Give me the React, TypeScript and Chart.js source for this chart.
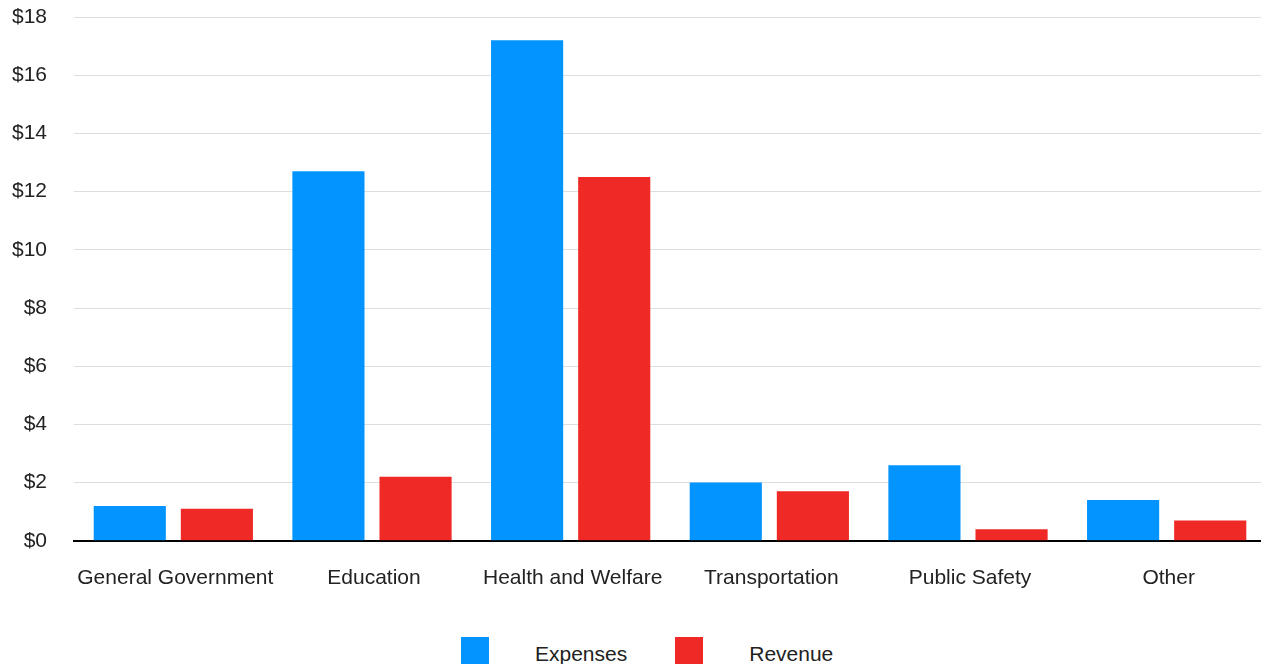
import React, { useEffect, useRef } from "react";
import { Chart, registerables } from "chart.js";

Chart.register(...registerables);

const categories = ["General Government", "Education", "Health and Welfare", "Transportation", "Public Safety", "Other"];
const expenses = [1.2, 12.7, 17.2, 2.0, 2.6, 1.4];
const revenue = [1.1, 2.2, 12.5, 1.7, 0.4, 0.7];
const seriesNames = ["Expenses", "Revenue"];
const colors = ["#0394ff", "#ee2926"];

const FONT = "'Liberation Sans', Arial, sans-serif";
const X_PAD = 25;
const Y_PAD = 27;

export default function App() {
  const ref = useRef<HTMLCanvasElement | null>(null);
  useEffect(() => {
    document.body.style.margin = "0";
    const chart = new Chart(ref.current!, {
      type: "bar",
      data: {
        labels: categories,
        datasets: [
          { label: seriesNames[0], data: expenses, backgroundColor: colors[0], categoryPercentage: 0.877, barPercentage: 0.828 },
          { label: seriesNames[1], data: revenue, backgroundColor: colors[1], categoryPercentage: 0.877, barPercentage: 0.828 },
        ],
      },
      options: {
        animation: false,
        responsive: true,
        maintainAspectRatio: false,
        layout: { padding: { left: 11, top: 17, right: 0, bottom: 9 } },
        plugins: { legend: { display: false }, tooltip: { enabled: false } },
        scales: {
          x: {
            grid: { display: false, drawTicks: false },
            border: { color: "#000", width: 2 },
            ticks: { color: "#222", font: { family: FONT, size: 21 }, padding: X_PAD, maxRotation: 0, autoSkip: false, labelOffset: 2 },
            afterFit: (s: any) => { s.paddingLeft = 0; s.paddingRight = 0; s.height -= X_PAD; },
          },
          y: {
            min: 0,
            max: 18,
            grid: { color: "#dedede", lineWidth: 1, drawTicks: false },
            border: { display: false },
            ticks: {
              stepSize: 2,
              color: "#222",
              font: { family: FONT, size: 21 },
              padding: Y_PAD,
              callback: (v: any) => "$" + v,
            },
            afterFit: (s: any) => { s.paddingTop = 0; s.paddingBottom = 0; s.width = 63; },
          },
        },
      },
    });
    return () => chart.destroy();
  }, []);

  const legendItem = (i: number) => (
    <div style={{ display: "flex", alignItems: "center" }}>
      <div style={{ width: 28, height: 28, background: colors[i] }} />
      <span style={{ marginLeft: 46, marginTop: 6, fontFamily: FONT, fontSize: 21, color: "#222" }}>{seriesNames[i]}</span>
    </div>
  );

  return (
    <div style={{ position: "relative", width: 1261, height: 664, overflow: "hidden" }}>
      <div style={{ position: "absolute", left: 0, top: 0, width: 1266, height: 600 }}>
        <canvas ref={ref} />
      </div>
      <div style={{ position: "absolute", left: 461, top: 636, display: "flex", gap: 48 }}>
        {legendItem(0)}
        {legendItem(1)}
      </div>
    </div>
  );
}
